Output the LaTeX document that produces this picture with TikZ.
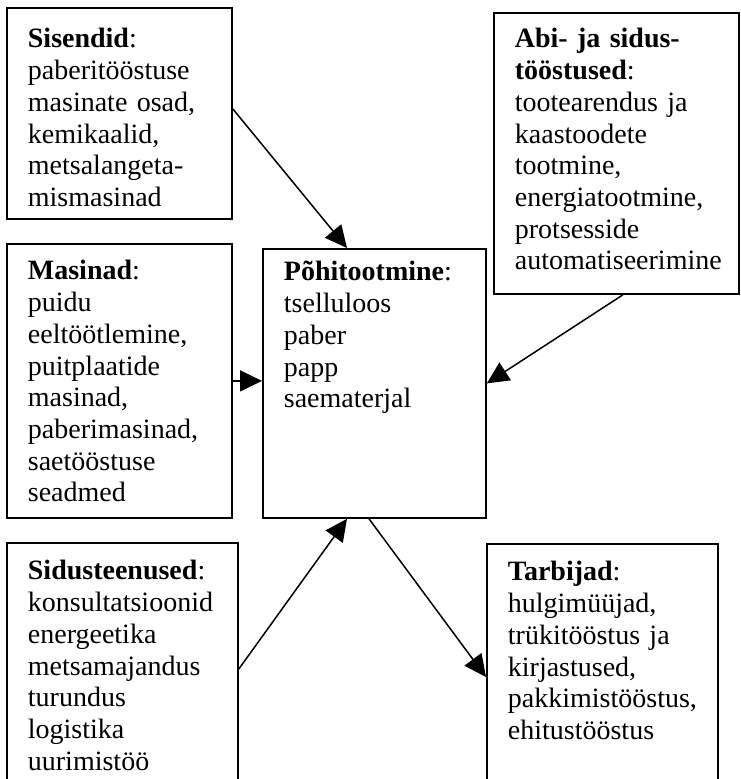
\documentclass[tikz,border=0pt]{standalone}
\usepackage{fontspec}
\setmainfont{Liberation Serif}
\usetikzlibrary{arrows.meta,positioning}

\begin{document}
\begin{tikzpicture}[x=1pt,y=-1pt,
    box/.style={draw, line width=1.8pt, anchor=north west, align=left,
      inner xsep=21pt, inner ysep=0pt, font=\fontsize{28}{31.7}\selectfont},
    arr/.style={line width=1.5pt, -{Triangle[length=22pt,width=21pt]}}]
    \useasboundingbox (0,0) rectangle (740,779);

    % Nodes
    \node[box, text width=183pt, text height=40pt, text depth=171pt] (sisendid) at (6,7)
      {\textbf{Sisendid}:\\paberitööstuse\\masinate osad,\\kemikaalid,\\metsalangeta-\\mismasinad};
    \node[box, text width=183pt, text height=36pt, text depth=238pt] (masinad) at (6,243)
      {\textbf{Masinad}:\\puidu\\eeltöötlemine,\\puitplaatide\\masinad,\\paberimasinad,\\saetööstuse\\seadmed};
    \node[box, text width=181pt, text height=32pt, text depth=237pt] (pohi) at (262,248)
      {\textbf{Põhitootmine}:\\tselluloos\\paber\\papp\\saematerjal};
    \node[box, text width=203pt, text height=35pt, text depth=246pt] (abi) at (493,12)
      {\textbf{Abi- ja sidus-}\\\textbf{tööstused}:\\tootearendus ja\\kaastoodete\\tootmine,\\energiatootmine,\\protsesside\\automatiseerimine};
    \node[box, text width=189pt, text height=37pt, text depth=223pt] (sidus) at (6,542)
      {\textbf{Sidusteenused}:\\konsultatsioonid\\energeetika\\metsamajandus\\turundus\\logistika\\uurimistöö};
    \node[box, text width=189pt, text height=37pt, text depth=223pt] (tarbijad) at (486,543)
      {\textbf{Tarbijad}:\\hulgimüüjad,\\trükitööstus ja\\kirjastused,\\pakkimistööstus,\\ehitustööstus};

    % Arrows
    \draw[arr] ([yshift=4.5pt]sisendid.east) -- ([xshift=85pt]pohi.north west);
    \draw[arr] ([xshift=6.5pt]abi.south) -- (pohi.east);
    \draw[arr] (masinad.east) -- (masinad.east -| pohi.west);
    \draw[arr] ([yshift=-127pt]sidus.north east) -- ([xshift=85pt]pohi.south west);
    \draw[arr] ([xshift=107pt]pohi.south west) -- ([yshift=-134pt]tarbijad.north west);

  \end{tikzpicture}
\end{document}
